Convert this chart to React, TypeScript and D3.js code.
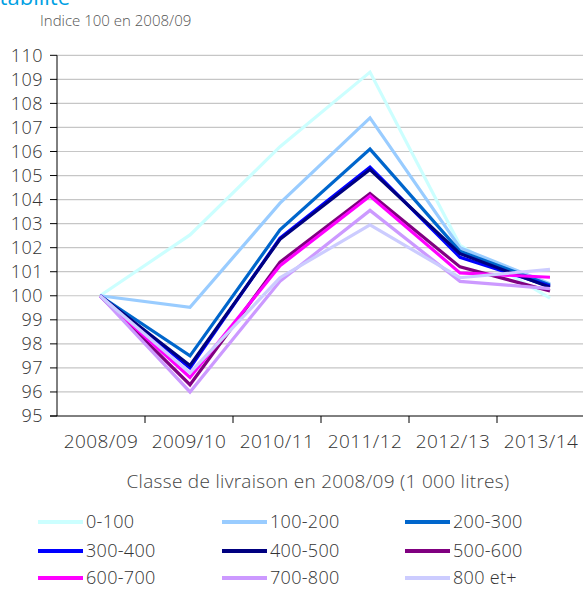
import React from "react";
import * as d3 from "d3";

const categories = ["2008/09", "2009/10", "2010/11", "2011/12", "2012/13", "2013/14"];
const seriesNames = ["0-100", "100-200", "200-300", "300-400", "400-500", "500-600", "600-700", "700-800", "800 et+"];
const seriesColors = ["#ccffff", "#99ccff", "#0066cc", "#0000ff", "#000080", "#800080", "#ff00ff", "#cc99ff", "#ccccff"];
const s0_100 = [100, 102.53, 106.2, 109.3, 102.1, 99.9];
const s100_200 = [100, 99.52, 103.85, 107.4, 102.0, 100.5];
const s200_300 = [100, 97.5, 102.74, 106.1, 101.85, 100.45];
const s300_400 = [100, 97.0, 102.4, 105.35, 101.6, 100.4];
const s400_500 = [100, 97.1, 102.35, 105.25, 101.75, 100.35];
const s500_600 = [100, 96.3, 101.4, 104.25, 101.2, 100.2];
const s600_700 = [100, 96.6, 101.25, 104.15, 100.95, 100.77];
const s700_800 = [100, 96.0, 100.6, 103.55, 100.6, 100.3];
const s800 = [100, 96.8, 100.75, 102.95, 100.75, 101.1];
const seriesValues = [s0_100, s100_200, s200_300, s300_400, s400_500, s500_600, s600_700, s700_800, s800];
const yTicks = d3.range(95, 111, 1);

const FONT = "'Open Sans', sans-serif";

export default function App() {
  const W = 583, H = 589;
  const y = d3.scaleLinear().domain([95, 110]).range([416, 55.3]);
  const band = d3.scaleBand<string>().domain(categories).range([57, 585]);
  const xp = d3.scalePoint<string>().domain(categories).range([100, 550]);
  const line = d3.line<number>().x((_, i) => xp(categories[i])!).y((v) => y(v));

  return (
    <svg width={W} height={H} style={{ position: "absolute", left: 0, top: 0, background: "#fff" }}>
      <text x={70} y={5} textAnchor="end" fontFamily={FONT} fontSize={22} fill="#00a0e3">Stabilité</text>
      <text x={40} y={26} fontFamily={FONT} fontSize={15} fontWeight={300} fill="#555">Indice 100 en 2008/09</text>
      {yTicks.filter((t) => t > 95).map((t) => (
        <line key={"g" + t} x1={57} x2={584} y1={y(t)} y2={y(t)} stroke="#c6c6c6" strokeWidth={1.2} />
      ))}
      {yTicks.map((t) => (
        <g key={"t" + t}>
          <line x1={50} x2={57} y1={y(t)} y2={y(t)} stroke="#000" strokeWidth={1} />
          <text x={43} y={y(t)} dy="0.36em" textAnchor="end" fontFamily={FONT} fontSize={18} letterSpacing={0.5} fontWeight={300} fill="#333">{t}</text>
        </g>
      ))}
      <line x1={57} x2={57} y1={y(110)} y2={y(95)} stroke="#000" strokeWidth={1} />
      <line x1={50} x2={584} y1={y(95)} y2={y(95)} stroke="#000" strokeWidth={1} />
      {categories.map((c) => (
        <line key={"xt" + c} x1={band(c)! + band.bandwidth()} x2={band(c)! + band.bandwidth()} y1={416} y2={423} stroke="#000" strokeWidth={1} />
      ))}
      {categories.map((c) => (
        <text key={"xl" + c} x={band(c)! + band.bandwidth() / 2} y={448} textAnchor="middle" fontFamily={FONT} fontSize={19} letterSpacing={0.4} fontWeight={300} fill="#333">{c}</text>
      ))}
      <text x={318} y={488} textAnchor="middle" fontFamily={FONT} fontSize={19} letterSpacing={0.3} fontWeight={300} fill="#444">Classe de livraison en 2008/09 (1 000 litres)</text>
      {seriesValues.map((vals, i) => (
        <path key={"s" + i} d={line(vals)!} fill="none" stroke={seriesColors[i]} strokeWidth={3.2} strokeLinejoin="miter" />
      ))}
      {seriesNames.map((n, i) => {
        const col = i % 3, row = Math.floor(i / 3);
        const lx = [38, 222, 405][col];
        const ly = [522, 551, 578][row];
        return (
          <g key={"lg" + n}>
            <line x1={lx} x2={lx + 45} y1={ly} y2={ly} stroke={seriesColors[i]} strokeWidth={4} />
            <text x={lx + 48} y={ly} dy="0.36em" fontFamily={FONT} fontSize={18} letterSpacing={0.3} fontWeight={300} fill="#333">{n}</text>
          </g>
        );
      })}
    </svg>
  );
}
